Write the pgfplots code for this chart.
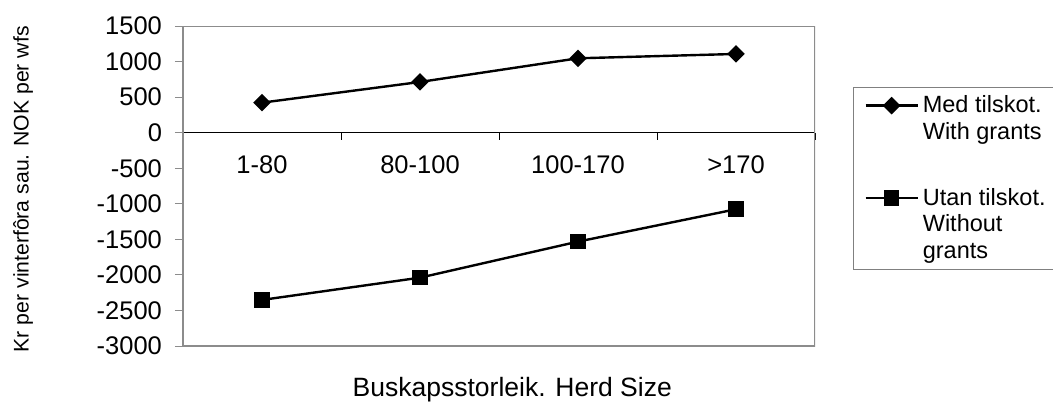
\documentclass[border=0pt]{standalone}
\usepackage{fontspec}
\setmainfont{Liberation Sans}
\usepackage{pgfplots}
\pgfplotsset{compat=1.18}
% legend sample lifted to the first line of a multi-line entry
\pgfplotsset{imgup/.style={legend image code/.code={\draw[mark repeat=2, mark phase=2, ##1] plot coordinates {(0pt,#1) (13pt,#1) (26pt,#1)};}}}
\begin{document}
\begin{tikzpicture}
\path[use as bounding box] (-91.5pt,-27.5pt) rectangle (435pt,173pt);
\begin{axis}[
  at={(0pt,0pt)}, anchor=south west,
  scale only axis, width=316pt, height=160pt,
  xmin=0.5, xmax=4.5, ymin=-3000, ymax=1500,
  axis x line*=middle, axis y line*=left,
  x axis line style={black, line width=0.5pt},
  y axis line style={gray!90, line width=1pt},
  /pgf/number format/assume math mode=true,
  ytick={-3000,-2500,...,1500},
  yticklabel style={font=\fontsize{12.75}{14}\selectfont, xshift=-3pt},
  y tick style={gray!90, line width=0.5pt},
  ytick align=outside, major tick length=4pt,
  y tick label style={/pgf/number format/.cd, 1000 sep={}},
  xtick={1,2,3,4},
  xticklabels={1-80,80-100,100-170,>170},
  x tick style={draw=none},
  xticklabel style={font=\fontsize{12.75}{14}\selectfont, yshift=-8pt},
  extra x ticks={1.5,2.5,3.5,4.5},
  extra x tick labels={},
  extra x tick style={x tick style={draw=black, line width=0.5pt}, xtick align=outside, major tick length=3.5pt},
  xlabel={Buskapsstorleik. Herd Size},
  ylabel={Kr per vinterfôra sau. NOK per wfs},
  every axis x label/.style={at={(axis description cs:0.521,-0.159)}, anchor=base, font=\fontsize{13.25}{15}\selectfont},
  every axis y label/.style={at={(axis description cs:-0.253,0.49)}, rotate=90, anchor=center, font=\fontsize{10.6}{12}\selectfont},
  legend style={at={(axis description cs:1.06,0.809)}, anchor=north west,
    draw=gray, line width=0.5pt, font=\fontsize{11.75}{13.3}\selectfont,
    cells={anchor=west, align=left}, row sep=19pt, inner xsep=5.5pt, inner ysep=2pt},
]
\addplot[black, line width=1.2pt, mark=square*, mark size=2.5pt, mark options={rotate=45, solid}, imgup=6.65pt]
  coordinates {(1,422) (2,713) (3,1046) (4,1107)};
\addlegendentry{Med tilskot.\hspace*{20pt}\\With grants}
\addplot[black, line width=1.2pt, mark=square*, mark size=3.3pt, mark options={solid}, imgup=13.3pt]
  coordinates {(1,-2352) (2,-2039) (3,-1532) (4,-1077)};
\addlegendentry{Utan tilskot.\\Without\\grants}
\draw[gray!90, line width=1pt] (rel axis cs:0,0) rectangle (rel axis cs:1,1);
\end{axis}
\end{tikzpicture}
\end{document}
